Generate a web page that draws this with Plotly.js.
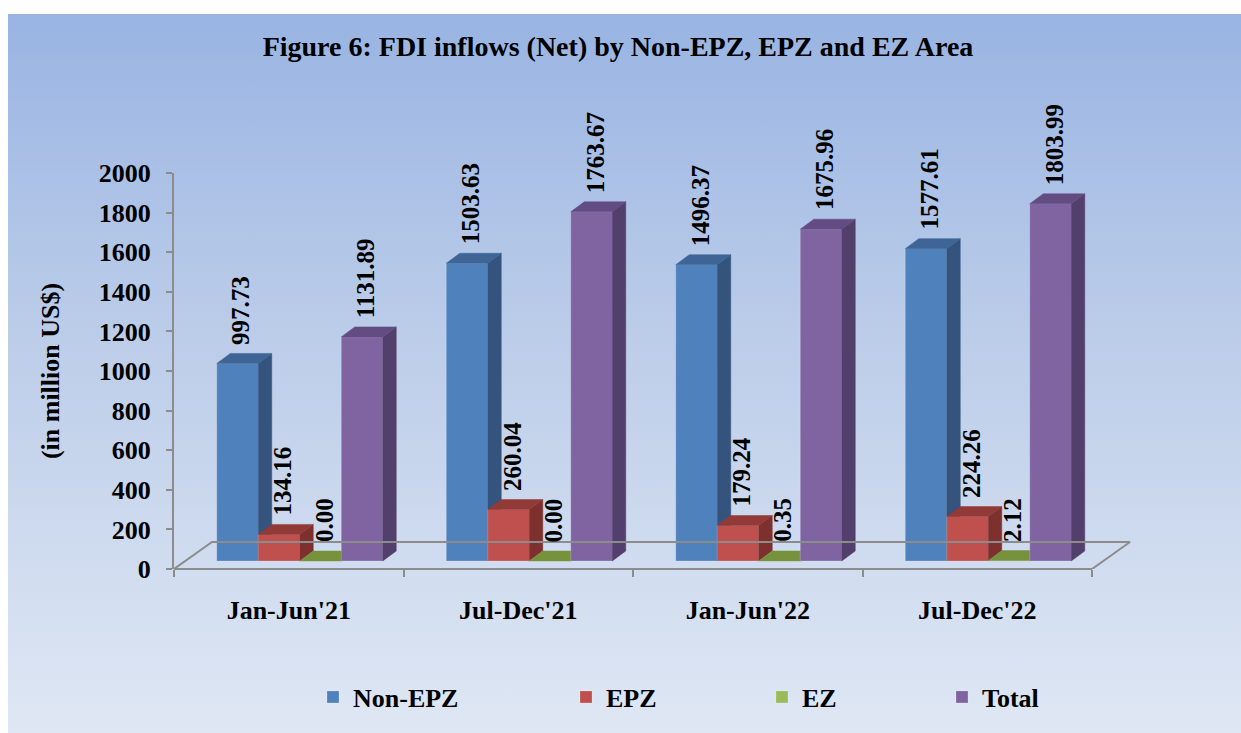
<!DOCTYPE html>
<html>
<head>
<meta charset="utf-8">
<script src="https://cdn.plot.ly/plotly-3.0.1.min.js"></script>
<style>
  html, body { margin: 0; padding: 0; background: #ffffff; }
  #bg { position: absolute; left: 8px; top: 14px; right: 0; bottom: 0;
        background: linear-gradient(to bottom, #99b4e3 0%, #bccde9 45%, #dfe7f4 100%); }
  #chart { position: absolute; left: 0; top: 0; width: 1241px; height: 733px; }
</style>
</head>
<body>
<div id="bg"></div>
<div id="chart"></div>
<script>
// ---- data ----
const categories = ["Jan-Jun'21", "Jul-Dec'21", "Jan-Jun'22", "Jul-Dec'22"];
const nonEPZ = [997.73, 1503.63, 1496.37, 1577.61];
const epz    = [134.16, 260.04, 179.24, 224.26];
const ez     = [0.00, 0.00, 0.35, 2.12];
const total  = [1131.89, 1763.67, 1675.96, 1803.99];
const seriesNames = ["Non-EPZ", "EPZ", "EZ", "Total"];
const yTickVals = [0, 200, 400, 600, 800, 1000, 1200, 1400, 1600, 1800, 2000];

// ---- styling / geometry ----
const seriesValues = [nonEPZ, epz, ez, total];
const frontColors = ["#4f81bd", "#c0504d", "#9bbb59", "#8064a2"];
const sideColors  = ["#34547e", "#7d302e", "#5f7631", "#523f6b"];
const topColors   = ["#3e6596", "#923a37", "#76923c", "#634c82"];
const FONT = "Liberation Serif, Times New Roman, serif";
const W = 1241, H = 733;
const L = 174, R = 1135, T = 173, B = 569;
const unitPx = 229.5;
const xMin = -0.5, xMax = xMin + (R - L) / unitPx;
const yMax = 2000;
const pxPerVal = (B - T) / yMax;
const baseShift = 8 / pxPerVal;           // bars stand slightly behind the front edge
const bw = 41.5 / unitPx;                 // bar width in category units
const grpShift = 11 / unitPx;
const dX = 13.5 / unitPx;                 // 3D depth, x
const dY = 10 / pxPerVal;                 // 3D depth, y
const floorDX = 38 / unitPx, floorDY = 27 / pxPerVal;
const lastEdge = categories.length - 0.5;
const px2paperX = p => (p - L) / (R - L);

const gray = '#8c8c8c';
const traces = [];
// floor outline (back, left and right edges of the 3D floor)
traces.push({
  type: 'scatter', mode: 'lines', xaxis: 'x2', yaxis: 'y',
  x: [xMin, xMin + floorDX, lastEdge + floorDX, lastEdge],
  y: [0, floorDY, floorDY, 0],
  line: { color: gray, width: 2 }, showlegend: false, hoverinfo: 'skip'
});

const annotations = [];
seriesValues.forEach((vals, k) => {
  const yax = 'y' + (k + 2);
  const centers = vals.map((v, i) => i + grpShift + (k - 1.5) * bw);
  const sx = [], sy = [], tx = [], ty = [];
  vals.forEach((v, i) => {
    const xl = centers[i] - bw / 2, xr = centers[i] + bw / 2;
    sx.push(xr, xr + dX, xr + dX, xr, xr, null);
    sy.push(0, dY, v + dY, v, 0, null);
    tx.push(xl, xl + dX, xr + dX, xr, xl, null);
    ty.push(v, v + dY, v + dY, v, v, null);
  });
  traces.push({
    type: 'bar', x: centers, y: vals, width: bw, name: seriesNames[k],
    marker: { color: frontColors[k], line: { color: 'rgba(255,255,255,0.25)', width: 0.8 } },
    xaxis: 'x', yaxis: yax, hoverinfo: 'skip',
    legend: k === 0 ? 'legend' : 'legend' + (k + 1)
  });
  traces.push({
    type: 'scatter', mode: 'lines', x: sx, y: sy, fill: 'toself',
    fillcolor: sideColors[k], line: { color: sideColors[k], width: 0.5 },
    xaxis: 'x', yaxis: yax, showlegend: false, hoverinfo: 'skip'
  });
  traces.push({
    type: 'scatter', mode: 'lines', x: tx, y: ty, fill: 'toself',
    fillcolor: topColors[k], line: { color: topColors[k], width: 0.5 },
    xaxis: 'x', yaxis: yax, showlegend: false, hoverinfo: 'skip'
  });
  vals.forEach((v, i) => {
    annotations.push({
      xref: 'x', yref: yax, x: centers[i] + 0.015, y: v + dY,
      text: v.toFixed(2), showarrow: false, textangle: -90,
      xanchor: 'center', yanchor: 'bottom', yshift: 7,
      font: { family: FONT, size: 25, color: '#000', weight: 'bold' }
    });
  });
});

// front edge of the floor (category axis line)
const shapes = [
  { type: 'line', xref: 'paper', yref: 'paper', x0: 0, y0: 0,
    x1: px2paperX(L + (lastEdge - xMin) * unitPx), y1: 0, line: { color: gray, width: 2 } }
];

const legendFont = { family: FONT, size: 26, color: '#000', weight: 'bold' };
const legendX = [313, 566, 762, 942];
const legendY = (B - 697) / (B - T);
function mkLegend(i) {
  return { x: px2paperX(legendX[i]), y: legendY, xanchor: 'left', yanchor: 'middle',
           orientation: 'h', bgcolor: 'rgba(0,0,0,0)', font: legendFont, itemclick: false, itemdoubleclick: false };
}

const hiddenY = { range: [-baseShift, yMax - baseShift], overlaying: 'y', visible: false, fixedrange: true };
const boundaryTicks = [];
for (let i = 0; i <= categories.length; i++) boundaryTicks.push(i - 0.5);

const layout = {
  width: W, height: H,
  margin: { l: L, r: W - R, t: T, b: H - B, pad: 0 },
  paper_bgcolor: 'rgba(0,0,0,0)', plot_bgcolor: 'rgba(0,0,0,0)',
  barmode: 'overlay',
  title: { text: 'Figure 6: FDI inflows (Net) by Non-EPZ, EPZ and EZ Area',
           x: 618 / W, xanchor: 'center', y: 1 - 46 / H, yanchor: 'middle',
           font: { family: FONT, size: 28, color: '#000', weight: 'bold' } },
  xaxis: { range: [xMin, xMax], tickvals: boundaryTicks, ticktext: boundaryTicks.map(() => ''),
           ticks: 'outside', ticklen: 7, tickwidth: 2, tickcolor: gray, showgrid: false, zeroline: false,
           showline: false, fixedrange: true },
  xaxis2: { range: [xMin, xMax], overlaying: 'x', anchor: 'y', side: 'bottom',
            tickvals: categories.map((c, i) => i), ticktext: categories,
            ticks: 'outside', ticklen: 18, tickcolor: 'rgba(0,0,0,0)', showgrid: false, zeroline: false,
            showline: false, fixedrange: true,
            tickfont: { family: FONT, size: 26, color: '#000', weight: 'bold' } },
  yaxis: { range: [0, yMax], tickvals: yTickVals, ticks: 'outside', ticklen: 6, tickwidth: 2, tickcolor: gray,
           showline: true, linecolor: gray, linewidth: 2, showgrid: false, zeroline: false,
           ticklabelstandoff: 10, fixedrange: true,
           tickfont: { family: FONT, size: 26, color: '#000', weight: 'bold' },
           title: { text: '(in million US$)', standoff: 32, font: { family: FONT, size: 26, color: '#000', weight: 'bold' } } },
  yaxis2: Object.assign({}, hiddenY),
  yaxis3: Object.assign({}, hiddenY),
  yaxis4: Object.assign({}, hiddenY),
  yaxis5: Object.assign({}, hiddenY),
  legend: mkLegend(0), legend2: mkLegend(1), legend3: mkLegend(2), legend4: mkLegend(3),
  shapes: shapes,
  annotations: annotations,
  showlegend: true
};

Plotly.newPlot('chart', traces, layout, { displayModeBar: false, staticPlot: true });
</script>
</body>
</html>
